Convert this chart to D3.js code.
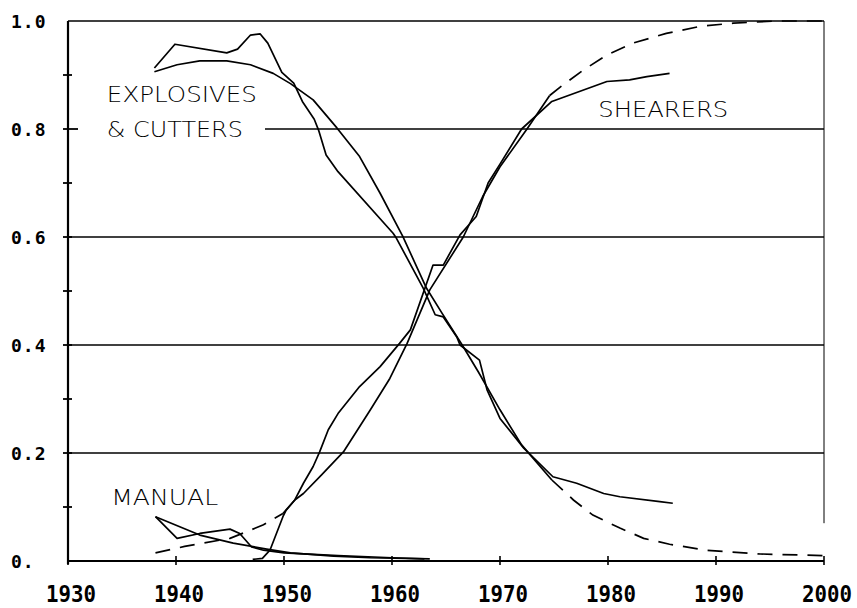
<!DOCTYPE html>
<html>
<head>
<meta charset="utf-8">
<script src="https://cdn.jsdelivr.net/npm/d3@7"></script>
<style>
  html, body { margin: 0; padding: 0; background: #fff; }
  svg { display: block; }
</style>
</head>
<body>
<svg id="chart" width="857" height="608"></svg>
<script>
// ---------- data ----------
const xTickYears = [1930, 1940, 1950, 1960, 1970, 1980, 1990, 2000];
const xTickLabels = ["1930", "1940", "1950", "1960", "1970", "1980", "1990", "2000"];
const yTickValues = [0, 0.2, 0.4, 0.6, 0.8, 1.0];
const yTickLabels = ["0.", "0.2", "0.4", "0.6", "0.8", "1.0"];
const yMinorTicks = [0.1, 0.3, 0.5, 0.7, 0.9];
const gridValues = [0.2, 0.4, 0.6, 0.8, 1.0];

// Explosives & cutters, observed share
const ecActualYears  = [1938.0, 1939.9, 1944.7, 1945.7, 1946.9, 1947.8, 1948.5, 1949.8, 1950.9, 1951.7, 1952.8, 1953.2, 1953.9, 1955.0, 1960.1, 1960.4, 1962.9, 1964.0, 1964.75, 1966.0, 1966.3, 1968.1, 1968.8, 1970.0, 1972.2, 1974.9, 1977.1, 1979.6, 1981.1, 1984.8, 1986.0];
const ecActualValues = [0.913, 0.957, 0.941, 0.948, 0.974, 0.976, 0.959, 0.905, 0.885, 0.851, 0.818, 0.798, 0.752, 0.721, 0.607, 0.598, 0.505, 0.456, 0.452, 0.415, 0.400, 0.372, 0.317, 0.264, 0.209, 0.156, 0.144, 0.125, 0.119, 0.110, 0.107];
// Explosives & cutters, fitted (solid within data range)
const ecFitYears  = [1938.0, 1940.1, 1942.2, 1944.7, 1946.9, 1949.0, 1950.6, 1952.7, 1954.9, 1957.0, 1958.9, 1961.0, 1963.2, 1964.6, 1966.5, 1968.0, 1970.0, 1972.0, 1974.8];
const ecFitValues = [0.906, 0.919, 0.926, 0.926, 0.919, 0.903, 0.884, 0.854, 0.802, 0.749, 0.681, 0.601, 0.505, 0.460, 0.400, 0.350, 0.280, 0.215, 0.150];
// Explosives & cutters, fitted extrapolation (dashed)
const ecFitTailYears  = [1974.8, 1976.8, 1978.6, 1981.1, 1983.3, 1985.7, 1989.1, 1994.1, 2000.0];
const ecFitTailValues = [0.150, 0.113, 0.085, 0.061, 0.042, 0.031, 0.020, 0.013, 0.010];

// Shearers, observed share
const shActualYears  = [1947.1, 1948.0, 1948.7, 1949.9, 1950.2, 1951.0, 1951.8, 1952.7, 1953.3, 1954.1, 1955.0, 1957.0, 1958.9, 1960.7, 1961.7, 1963.8, 1964.75, 1966.3, 1967.8, 1968.9, 1970.0, 1972.0, 1974.8, 1979.9, 1982.0, 1983.6, 1985.7];
const shActualValues = [0.003, 0.005, 0.020, 0.082, 0.094, 0.113, 0.144, 0.175, 0.202, 0.243, 0.273, 0.323, 0.360, 0.403, 0.428, 0.548, 0.548, 0.604, 0.638, 0.700, 0.735, 0.800, 0.851, 0.888, 0.891, 0.897, 0.903];
// Shearers, fitted: early extrapolation (dashed), fit (solid), late extrapolation (dashed)
const shFitEarlyYears  = [1938.1, 1940.8, 1942.5, 1945.0, 1946.5, 1948.1, 1949.9];
const shFitEarlyValues = [0.015, 0.027, 0.033, 0.042, 0.054, 0.067, 0.088];
const shFitYears  = [1949.9, 1951.0, 1951.8, 1953.5, 1955.5, 1958.0, 1959.8, 1961.4, 1963.5, 1966.6, 1968.4, 1970.0, 1972.5, 1974.6];
const shFitValues = [0.088, 0.113, 0.125, 0.160, 0.202, 0.280, 0.338, 0.403, 0.502, 0.600, 0.675, 0.730, 0.800, 0.862];
const shFitLateYears  = [1974.6, 1975.6, 1977.7, 1979.9, 1982.3, 1985.4, 1988.5, 1991.6, 1995.6, 2000.0];
const shFitLateValues = [0.862, 0.878, 0.909, 0.937, 0.959, 0.977, 0.990, 0.996, 1.000, 1.000];

// Manual, observed share
const manActualYears  = [1938.1, 1940.1, 1942.2, 1945.0, 1945.9, 1947.0, 1948.1, 1950.0, 1955.0, 1960.0, 1963.0];
const manActualValues = [0.082, 0.042, 0.051, 0.059, 0.051, 0.026, 0.020, 0.015, 0.010, 0.006, 0.004];
// Manual, fitted
const manFitYears  = [1938.1, 1942.2, 1945.3, 1948.4, 1950.6, 1954.6, 1958.0, 1963.5];
const manFitValues = [0.082, 0.048, 0.033, 0.022, 0.015, 0.009, 0.006, 0.004];

const seriesLabels = [
  { text: "EXPLOSIVES", year: 1933.6, value: 0.850, len: 150 },
  { text: "& CUTTERS",  year: 1933.6, value: 0.785, len: 136 },
  { text: "SHEARERS",   year: 1979.1, value: 0.822, len: 130 },
  { text: "MANUAL",     year: 1934.0, value: 0.104, len: 107 }
];

// ---------- drawing ----------
const svg = d3.select("#chart");
const x = d3.scaleLinear().domain([1930, 2000]).range([68, 824]);
const y = d3.scaleLinear().domain([0, 1]).range([561, 21]);

const zip = (xs, ys) => xs.map((v, i) => [v, ys[i]]);
const line = d3.line().x(d => x(d[0])).y(d => y(d[1]));

// gridlines
svg.append("g").selectAll("line").data(gridValues).join("line")
  .attr("x1", d => d === 0.8 ? 265 : x(1930))
  .attr("x2", x(2000))
  .attr("y1", d => y(d)).attr("y2", d => y(d))
  .attr("stroke", "#000").attr("stroke-width", 1.6);

// right border
svg.append("line")
  .attr("x1", x(2000)).attr("x2", x(2000))
  .attr("y1", y(1)).attr("y2", y(0.07))
  .attr("stroke", "#000").attr("stroke-width", 1);

// axes lines
svg.append("line").attr("x1", x(1930)).attr("x2", x(1930))
  .attr("y1", y(1)).attr("y2", y(0) + 3)
  .attr("stroke", "#000").attr("stroke-width", 2.2);
svg.append("line").attr("x1", x(1930)).attr("x2", x(2000))
  .attr("y1", y(0)).attr("y2", y(0))
  .attr("stroke", "#000").attr("stroke-width", 2.2);

// y ticks (crossing the axis)
svg.append("g").selectAll("line").data(yTickValues.filter(v => v > 0 && v < 1)).join("line")
  .attr("x1", x(1930) - 5).attr("x2", d => x(1930) + (d === 0.8 ? 10 : 4))
  .attr("y1", d => y(d)).attr("y2", d => y(d))
  .attr("stroke", "#000").attr("stroke-width", 1.8);
svg.append("g").selectAll("line").data(yMinorTicks).join("line")
  .attr("x1", x(1930) - 5).attr("x2", x(1930) + 4)
  .attr("y1", d => y(d)).attr("y2", d => y(d))
  .attr("stroke", "#000").attr("stroke-width", 1.8);

// x ticks (crossing the axis)
svg.append("g").selectAll("line").data(xTickYears).join("line")
  .attr("x1", d => x(d)).attr("x2", d => x(d))
  .attr("y1", y(0) - 5).attr("y2", y(0) + 4)
  .attr("stroke", "#000").attr("stroke-width", 1.6);

// tick labels
const tickFont = "'DejaVu Sans Mono', 'Liberation Mono', monospace";
svg.append("g").selectAll("text").data(xTickYears).join("text")
  .attr("x", d => x(d) - 22)
  .attr("y", 602)
  .attr("textLength", 50)
  .attr("lengthAdjust", "spacingAndGlyphs")
  .attr("font-family", tickFont)
  .attr("font-weight", "bold")
  .attr("font-size", 23)
  .text((d, i) => xTickLabels[i]);

svg.append("g").selectAll("text").data(yTickValues).join("text")
  .attr("x", 11)
  .attr("y", d => y(d) + 6.5)
  .attr("font-family", tickFont)
  .attr("font-weight", "bold")
  .attr("font-size", 18)
  .attr("letter-spacing", 1)
  .text((d, i) => yTickLabels[i]);

// data lines
const solid = [
  zip(ecActualYears, ecActualValues),
  zip(ecFitYears, ecFitValues),
  zip(shActualYears, shActualValues),
  zip(shFitYears, shFitValues),
  zip(manActualYears, manActualValues),
  zip(manFitYears, manFitValues)
];
const dashed = [
  zip(ecFitTailYears, ecFitTailValues),
  zip(shFitEarlyYears, shFitEarlyValues),
  zip(shFitLateYears, shFitLateValues)
];
svg.append("g").selectAll("path").data(solid).join("path")
  .attr("d", line)
  .attr("fill", "none").attr("stroke", "#000")
  .attr("stroke-width", 1.7).attr("stroke-linejoin", "round");
svg.append("g").selectAll("path").data(dashed).join("path")
  .attr("d", line)
  .attr("fill", "none").attr("stroke", "#000")
  .attr("stroke-width", 1.7)
  .attr("stroke-dasharray", "15,10");

// series labels
svg.append("g").selectAll("text").data(seriesLabels).join("text")
  .attr("x", d => x(d.year))
  .attr("y", d => y(d.value))
  .attr("textLength", d => d.len)
  .attr("lengthAdjust", "spacingAndGlyphs")
  .attr("font-family", "'DejaVu Sans', 'Open Sans', sans-serif")
  .attr("font-weight", 200)
  .attr("font-size", 21)
  .text(d => d.text);
</script>
</body>
</html>
